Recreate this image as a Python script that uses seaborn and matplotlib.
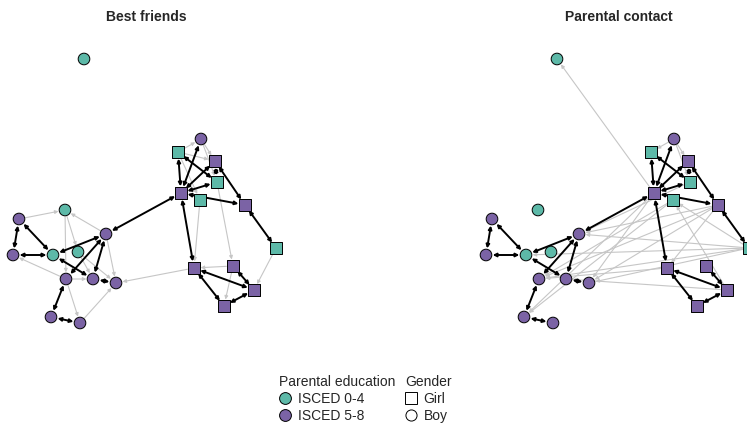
import matplotlib
matplotlib.use("Agg")
import matplotlib.pyplot as plt
from matplotlib.lines import Line2D
import seaborn as sns
import pandas as pd

sns.set_style("white")
plt.rcParams["font.family"] = ["Liberation Sans", "DejaVu Sans"]

# ---- network data -------------------------------------------------------
# Shared layout for the 24 pupils (x, y in layout units, y grows downward)
node_x = [84, 201, 178, 215, 217, 181, 200, 245, 276, 194, 233, 254, 224,
          65, 19, 106, 13, 53, 78, 66, 93, 116, 51, 80]
node_y = [59, 139, 152, 161, 182, 193, 200, 205, 248, 268, 266, 290, 306,
          210, 219, 234, 255, 255, 252, 279, 279, 283, 317, 323]
education = ["ISCED 0-4", "ISCED 5-8", "ISCED 0-4", "ISCED 5-8", "ISCED 0-4",
             "ISCED 5-8", "ISCED 0-4", "ISCED 5-8", "ISCED 0-4", "ISCED 5-8",
             "ISCED 5-8", "ISCED 5-8", "ISCED 5-8", "ISCED 0-4", "ISCED 5-8",
             "ISCED 5-8", "ISCED 5-8", "ISCED 0-4", "ISCED 0-4", "ISCED 5-8",
             "ISCED 5-8", "ISCED 5-8", "ISCED 5-8", "ISCED 5-8"]
gender = ["Boy", "Boy", "Girl", "Girl", "Girl", "Girl", "Girl", "Girl",
          "Girl", "Girl", "Girl", "Girl", "Girl", "Boy", "Boy", "Boy", "Boy",
          "Boy", "Boy", "Boy", "Boy", "Boy", "Boy", "Boy"]

# reciprocated ties (drawn black, both directions)
friends_mutual = [(5, 15), (5, 1), (5, 2), (5, 3), (5, 4), (5, 7), (5, 9),
                  (2, 4), (3, 4), (3, 7), (7, 8), (9, 11), (9, 12), (10, 11),
                  (12, 11), (14, 16), (14, 17), (16, 17), (17, 15), (17, 20),
                  (19, 15), (20, 15), (20, 21), (19, 22), (22, 23)]
# one-way ties (drawn grey, from -> to)
friends_oneway = [(2, 1), (1, 3), (2, 3), (1, 4), (2, 6), (6, 9), (4, 10),
                  (8, 11), (10, 9), (10, 12), (9, 21), (14, 13), (15, 13),
                  (13, 18), (13, 19), (19, 16), (18, 21), (15, 21), (19, 20),
                  (19, 23), (23, 21), (18, 20), (16, 17)]

contact_mutual = [(5, 15), (5, 1), (5, 2), (5, 3), (5, 4), (5, 7), (5, 9),
                  (2, 4), (3, 4), (3, 7), (7, 8), (9, 11), (9, 12), (10, 11),
                  (12, 11), (14, 16), (14, 17), (16, 17), (17, 15), (17, 20),
                  (19, 15), (20, 15), (20, 21), (19, 22), (22, 23)]
contact_oneway = [(5, 0), (1, 2), (1, 3), (1, 4), (7, 9), (11, 6), (8, 6),
                  (7, 15), (8, 15), (8, 17), (8, 19), (9, 19), (5, 22),
                  (6, 22), (6, 19), (7, 19), (8, 21), (4, 15), (11, 20),
                  (5, 21), (7, 21)]

panel_titles = ["Best friends", "Parental contact"]

# ---- styling --------------------------------------------------------------
palette = {"ISCED 0-4": "#5db9a8", "ISCED 5-8": "#7b63a5"}
markers = {"Girl": "s", "Boy": "o"}

W, H = 747, 428
fig = plt.figure(figsize=(W / 100, H / 100), dpi=100)

nodes = pd.DataFrame({"x": node_x, "y": node_y,
                      "education": education, "gender": gender})


def draw_edge(ax, a, b, color, lw, style, z):
    ax.annotate("", xy=(node_x[b], node_y[b]), xytext=(node_x[a], node_y[a]),
                arrowprops=dict(arrowstyle=style, color=color, lw=lw,
                                shrinkA=4.8, shrinkB=4.8,
                                mutation_scale=5),
                zorder=z)


panels = [(0, friends_mutual, friends_oneway),
          (473, contact_mutual, contact_oneway)]
for (left_px, mutual, oneway), title in zip(panels, panel_titles):
    ax = fig.add_axes([left_px / W, 1 - 345 / H, 292 / W, 315 / H])
    ax.set_xlim(0, 292)
    ax.set_ylim(345, 30)
    for a, b in oneway:
        draw_edge(ax, a, b, "#c6c6c6", 0.8, "-|>", 1)
    for a, b in mutual:
        draw_edge(ax, a, b, "black", 1.4, "<|-|>", 2)
    sns.scatterplot(data=nodes, x="x", y="y", hue="education",
                    style="gender", palette=palette, markers=markers,
                    s=70, edgecolor="black", linewidth=0.7, legend=False,
                    zorder=3, ax=ax)
    ax.set_axis_off()
    ax.set_title(title, fontsize=10, fontweight="bold", pad=6.5)

# ---- legends --------------------------------------------------------------
edu_handles = [Line2D([], [], ls="", marker="o", ms=8.5, mfc=palette[k],
                      mec="black", mew=0.7, label=k) for k in palette]
gen_handles = [Line2D([], [], ls="", marker=markers[k], ms=8, mfc="white",
                      mec="black", mew=0.7, label=k) for k in markers]
common = dict(loc="upper left", frameon=False, fontsize=10,
              title_fontsize=10, alignment="left", borderpad=0,
              borderaxespad=0, handlelength=0.9, handletextpad=0.45,
              labelspacing=0.2)
fig.legend(handles=edu_handles, title="Parental education",
           bbox_to_anchor=(279 / W, 1 - 375 / H), **common)
fig.legend(handles=gen_handles, title="Gender",
           bbox_to_anchor=(405 / W, 1 - 375 / H), **common)

fig.savefig("out.png", dpi=100)
